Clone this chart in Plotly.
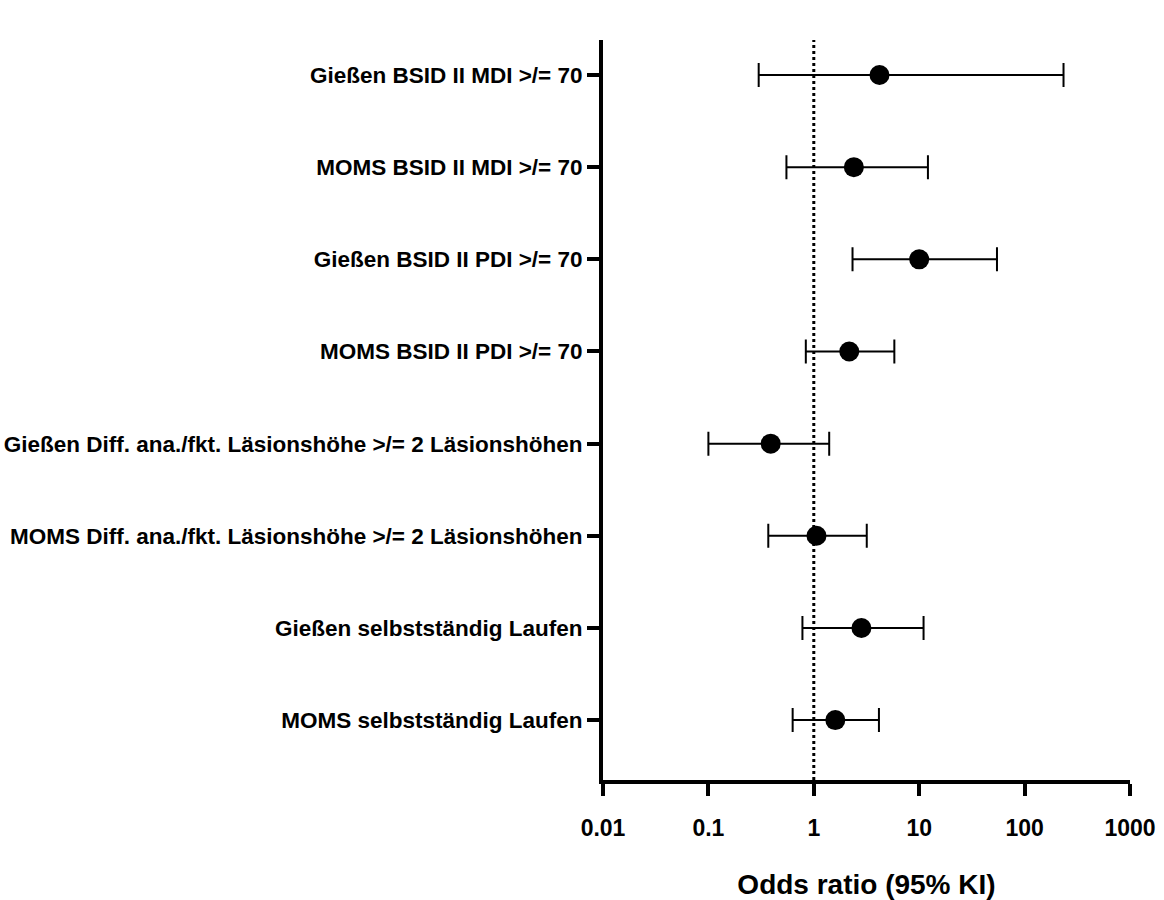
import plotly.graph_objects as go

categories = [
    "Gießen BSID II MDI >/= 70",
    "MOMS BSID II MDI >/= 70",
    "Gießen BSID II PDI >/= 70",
    "MOMS BSID II PDI >/= 70",
    "Gießen Diff. ana./fkt. Läsionshöhe >/= 2 Läsionshöhen",
    "MOMS Diff. ana./fkt. Läsionshöhe >/= 2 Läsionshöhen",
    "Gießen selbstständig Laufen",
    "MOMS selbstständig Laufen",
]
odds_ratio = [4.2, 2.4, 10.0, 2.17, 0.39, 1.06, 2.83, 1.60]
ci_low = [0.30, 0.55, 2.33, 0.84, 0.10, 0.37, 0.78, 0.63]
ci_high = [234, 12.1, 54.7, 5.81, 1.40, 3.18, 11.0, 4.15]
tick_vals_x = [0.01, 0.1, 1, 10, 100, 1000]
tick_text_x = ["0.01", "0.1", "1", "10", "100", "1000"]

pos = list(range(len(categories)))
FONT = "Liberation Sans, Arial, sans-serif"

fig = go.Figure()
fig.add_trace(go.Scatter(
    x=odds_ratio,
    y=pos,
    mode="markers",
    marker=dict(symbol="circle", size=20, color="black"),
    error_x=dict(
        type="data",
        symmetric=False,
        array=[h - o for h, o in zip(ci_high, odds_ratio)],
        arrayminus=[o - l for o, l in zip(odds_ratio, ci_low)],
        color="black",
        thickness=2,
        width=12,
    ),
    showlegend=False,
))

fig.add_shape(
    type="line", xref="x", yref="paper",
    x0=1, x1=1, y0=0, y1=1,
    line=dict(color="black", width=3, dash="dot"),
    layer="below",
)

fig.update_layout(
    width=1164, height=900,
    margin=dict(l=603, r=34, t=40, b=120),
    paper_bgcolor="white", plot_bgcolor="white",
    font=dict(family=FONT, color="black"),
    xaxis=dict(
        type="log",
        range=[-2, 3],
        tickvals=tick_vals_x,
        ticktext=["<b>" + t + "</b>" for t in tick_text_x],
        tickfont=dict(size=23, family=FONT, color="black"),
        ticks="outside", ticklen=12, tickwidth=4, tickcolor="black",
        ticklabelstandoff=12,
        showline=True, linewidth=4, linecolor="black",
        showgrid=False, zeroline=False,
        automargin=False,
        title=dict(text="<b>Odds ratio (95% KI)</b>",
                   font=dict(size=28, family=FONT, color="black"),
                   standoff=36),
    ),
    yaxis=dict(
        range=[7.65, -0.38],
        tickvals=pos,
        ticktext=["<b>" + c + "</b>" for c in categories],
        tickfont=dict(size=22.5, family=FONT, color="black"),
        ticks="outside", ticklen=12, tickwidth=4, tickcolor="black",
        ticklabelstandoff=0,
        showline=True, linewidth=4, linecolor="black",
        showgrid=False, zeroline=False,
        automargin=False,
    ),
)

fig.write_html("out.html")
